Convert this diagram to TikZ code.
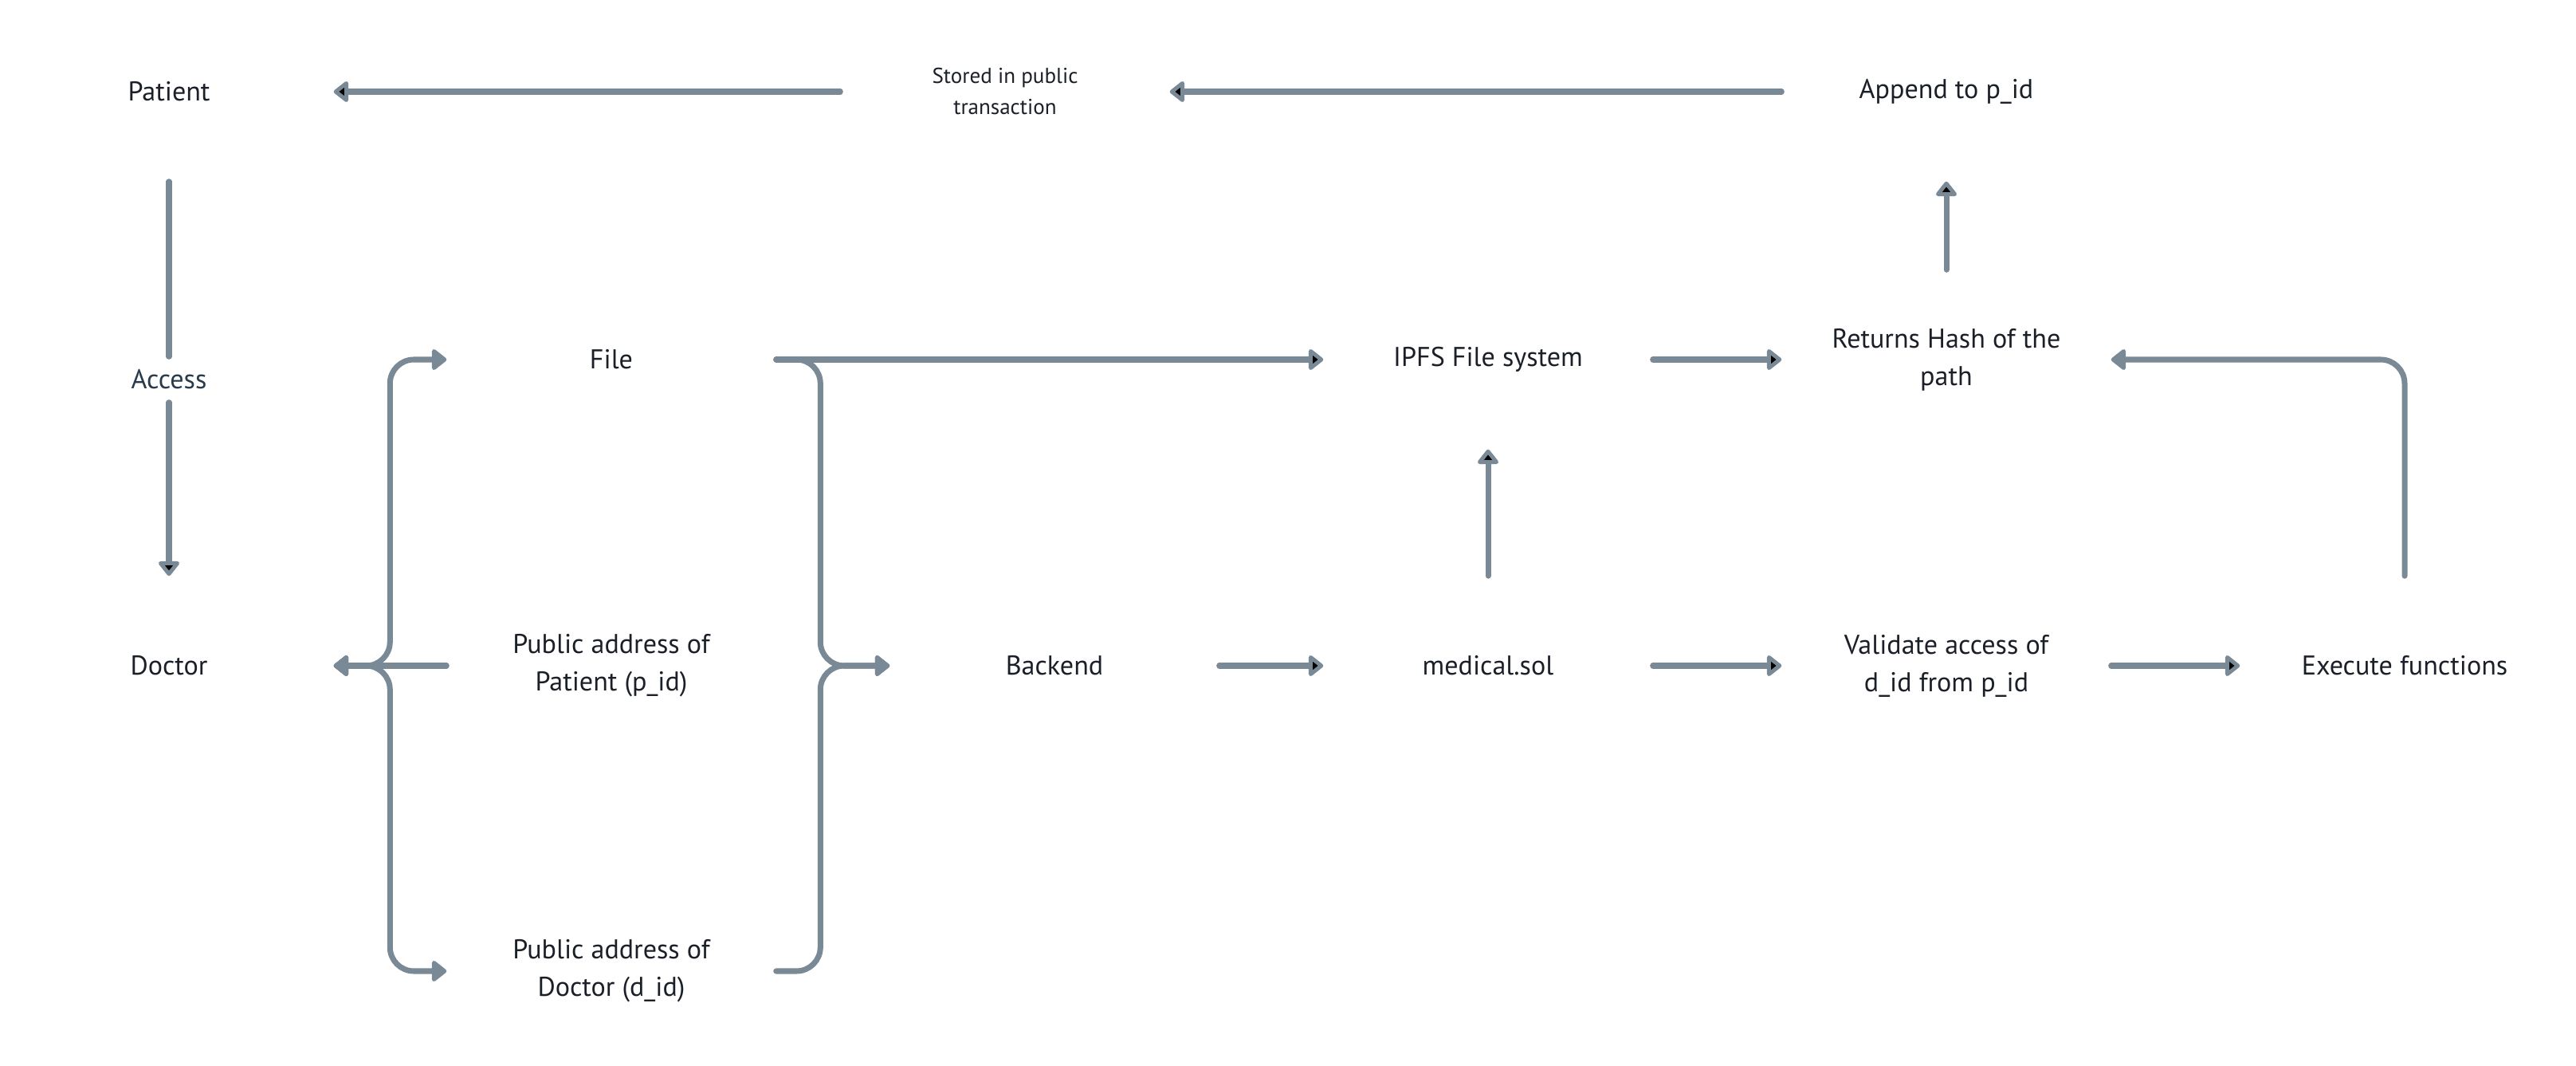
\documentclass[tikz,border=0pt]{standalone}
\usepackage{fontspec}
\setmainfont{PT Sans}
\usetikzlibrary{arrows.meta}
\definecolor{slate}{RGB}{122,137,150}
\definecolor{ink}{RGB}{26,31,40}
\definecolor{inkblue}{RGB}{40,58,76}

\begin{document}
\begin{tikzpicture}[>={Triangle[length=0.2cm, width=0.3cm, round]}]
	\tikzstyle{every node} = [rectangle, minimum width=4.12cm, minimum height=2.24cm, inner sep=0pt, align=center, text=ink, font=\fontsize{9.7}{13.4}\selectfont]
	\tikzstyle{link} = [draw=slate, line width=2pt, line cap=round, line join=round, rounded corners=0.3cm]
	\useasboundingbox (0,0) rectangle (32.32,13.36);
	\node (patient) at (2.12,12.21) {Patient};
	\node[font=\fontsize{7.7}{11.1}\selectfont] (stored) at (12.61,12.21) {Stored in public\\transaction};
	\node (append) at (24.42,12.21) {Append to p\_id};
	\node[minimum width=0cm, minimum height=0.56cm, text=inkblue] (access) at (2.12,8.60) {Access};
	\node (file) at (7.67,8.85) {File};
	\node (ipfs) at (18.67,8.85) {IPFS File system};
	\node (hash) at (24.42,8.85) {Returns Hash of the\\path};
	\node (doctor) at (2.12,5.01) {Doctor};
	\node (pubpat) at (7.67,5.01) {Public address of\\Patient (p\_id)};
	\node (backend) at (13.23,5.01) {Backend};
	\node (medsol) at (18.67,5.01) {medical.sol};
	\node (validate) at (24.42,5.01) {Validate access of\\d\_id from p\_id};
	\node (execute) at (30.17,5.01) {Execute functions};
	\node (pubdoc) at (7.67,1.18) {Public address of\\Doctor (d\_id)};

	\draw[link]
	(append) edge[->] (stored)
	(stored) edge[->] (patient)
	(patient) edge (access)
	(access) edge[->] (doctor)
	(hash) edge[->] (append)
	(file) edge[->] (ipfs)
	(ipfs) edge[->] (hash)
	(medsol) edge[->] (ipfs)
	(backend) edge[->] (medsol)
	(medsol) edge[->] (validate)
	(validate) edge[->] (execute)
	(pubpat) edge[->] (doctor)
	;
	%braces around the public addresses
	\draw[link, <->] (doctor.east) -| ([xshift=-0.71cm]file.west) -- (file.west);
	\draw[link, <->] (doctor.east) -| ([xshift=-0.71cm]pubdoc.west) -- (pubdoc.west);
	\draw[link, ->] (file.east) -| ([xshift=-0.87cm]backend.west) -- (backend.west);
	\draw[link, ->] (pubdoc.east) -| ([xshift=-0.87cm]backend.west) -- (backend.west);
	\draw[link, ->] (execute.north) |- (hash.east);
\end{tikzpicture}
\end{document}
